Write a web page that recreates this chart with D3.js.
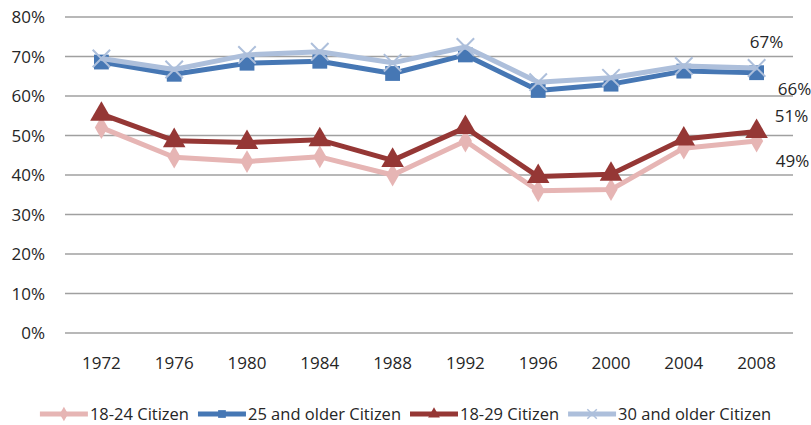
<!DOCTYPE html>
<html>
<head>
<meta charset="utf-8">
<script src="https://cdn.jsdelivr.net/npm/d3@7"></script>
<style>
  body { margin: 0; background: #fff; }
  svg { display: block; font-family: "Open Sans", sans-serif; }
</style>
</head>
<body>
<div id="chart"></div>
<script>
const years = ["1972", "1976", "1980", "1984", "1988", "1992", "1996", "2000", "2004", "2008"];
const yTicks = [0, 10, 20, 30, 40, 50, 60, 70, 80];

const age1824 = [52.0, 44.5, 43.4, 44.6, 40.0, 48.6, 36.0, 36.3, 46.8, 48.6];
const age25up = [68.6, 65.5, 68.3, 68.8, 65.7, 70.4, 61.4, 63.0, 66.3, 65.9];
const age1829 = [55.4, 48.7, 48.2, 48.9, 43.7, 52.0, 39.6, 40.2, 49.1, 51.0];
const age30up = [69.5, 66.7, 70.4, 71.2, 68.4, 72.4, 63.5, 64.6, 67.6, 67.1];

const seriesNames = ["18-24 Citizen", "25 and older Citizen", "18-29 Citizen", "30 and older Citizen"];
const lastLabels = ["49%", "66%", "51%", "67%"];

const series = [
  { name: seriesNames[0], values: age1824, color: "#e6b5b4", symbol: d3.symbolDiamond, size: 150, label: lastLabels[0], dx: 36, dy: 21 },
  { name: seriesNames[1], values: age25up, color: "#4677b4", symbol: d3.symbolSquare, size: 220, label: lastLabels[1], dx: 38, dy: 18 },
  { name: seriesNames[2], values: age1829, color: "#953735", symbol: d3.symbolTriangle, size: 220, label: lastLabels[2], dx: 35, dy: -14 },
  { name: seriesNames[3], values: age30up, color: "#adbfdb", symbol: d3.symbolX, size: 200, label: lastLabels[3], dx: 10, dy: -25 }
];

const W = 811, H = 425;
const svg = d3.select("#chart").append("svg").attr("width", W).attr("height", H);

const x = d3.scaleBand().domain(years).range([65, 793]);
const y = d3.scaleLinear().domain([0, 80]).range([333, 17]);

// grid
svg.append("g")
  .selectAll("line")
  .data(yTicks)
  .join("line")
  .attr("x1", 65).attr("x2", 793)
  .attr("y1", d => y(d)).attr("y2", d => y(d))
  .attr("stroke", "#a0a0a0").attr("stroke-width", 1.5);

svg.append("g")
  .selectAll("text")
  .data(yTicks)
  .join("text")
  .attr("x", 45).attr("y", d => y(d) + 6)
  .attr("text-anchor", "end")
  .attr("font-size", 17).attr("fill", "#262626")
  .text(d => d + "%");

svg.append("g")
  .selectAll("text")
  .data(years)
  .join("text")
  .attr("x", d => x(d) + x.bandwidth() / 2).attr("y", 369)
  .attr("text-anchor", "middle")
  .attr("font-size", 17).attr("fill", "#262626")
  .text(d => d);

const line = d3.line()
  .x((d, i) => x(years[i]) + x.bandwidth() / 2)
  .y(d => y(d));

series.forEach(s => {
  const g = svg.append("g");
  g.append("path")
    .attr("d", line(s.values))
    .attr("fill", "none")
    .attr("stroke", s.color)
    .attr("stroke-width", 5)
    .attr("stroke-linejoin", "round");
  const sym = d3.symbol().type(s.symbol).size(s.size);
  g.selectAll("path.m")
    .data(s.values)
    .join("path")
    .attr("class", "m")
    .attr("transform", (d, i) => `translate(${x(years[i]) + x.bandwidth() / 2},${y(d)})`)
    .attr("d", sym())
    .attr("fill", s.color)
    .attr("stroke", s.color)
    .attr("stroke-width", s.symbol === d3.symbolX ? 2 : 0);
});

// end labels
series.forEach(s => {
  const last = s.values[s.values.length - 1];
  svg.append("text")
    .attr("x", x(years[years.length - 1]) + x.bandwidth() / 2 + s.dx)
    .attr("y", y(last) + s.dy)
    .attr("text-anchor", "middle")
    .attr("dominant-baseline", "middle")
    .attr("font-size", 17).attr("fill", "#262626")
    .text(s.label);
});

// legend
const legend = svg.append("g");
let lx = 0;
series.forEach(s => {
  const g = legend.append("g").attr("transform", `translate(${lx},0)`);
  g.append("line").attr("x1", 0).attr("x2", 48).attr("y1", 0).attr("y2", 0)
    .attr("stroke", s.color).attr("stroke-width", 5);
  g.append("path").attr("transform", "translate(24,0)")
    .attr("d", d3.symbol().type(s.symbol).size(60)())
    .attr("fill", s.color).attr("stroke", s.color)
    .attr("stroke-width", s.symbol === d3.symbolX ? 1.5 : 0);
  const t = g.append("text").attr("x", 50).attr("y", 6)
    .attr("font-size", 16.5).attr("fill", "#262626").text(s.name);
  lx += 50 + t.node().getComputedTextLength() + 9;
});
legend.attr("transform", `translate(${(W - (lx - 9)) / 2},414)`);
</script>
</body>
</html>
